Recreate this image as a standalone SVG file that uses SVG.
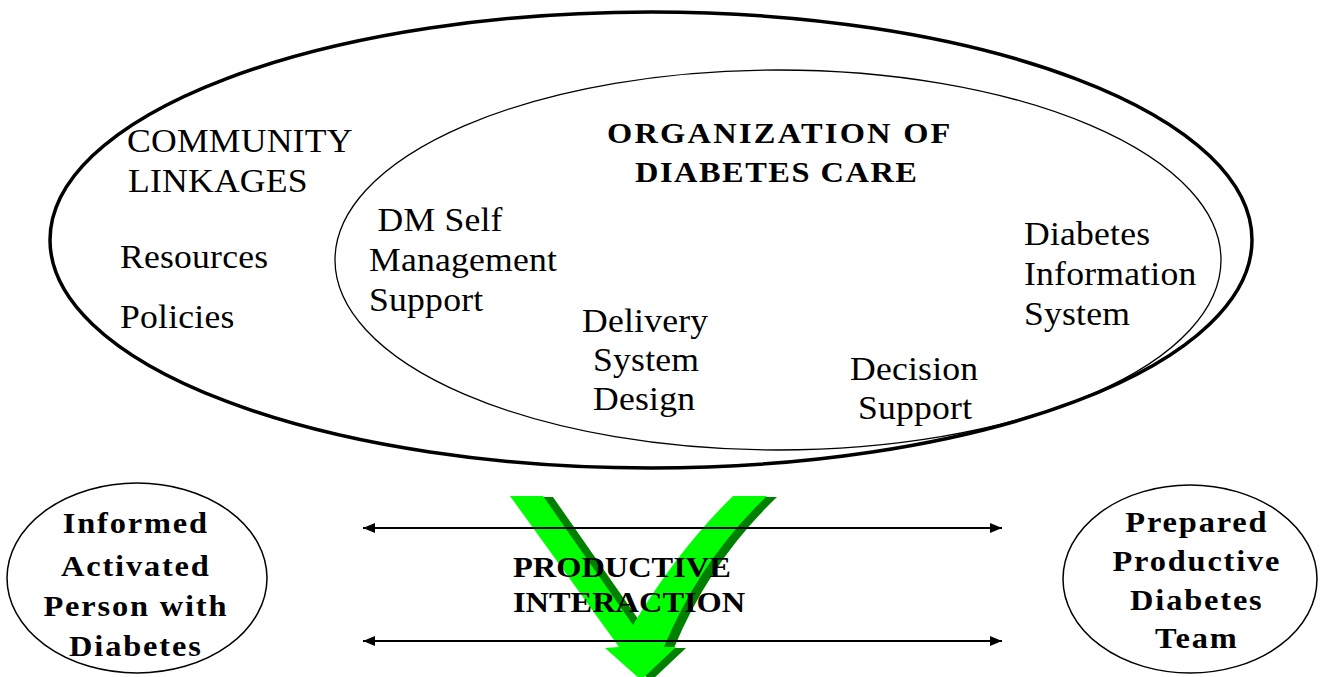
<svg xmlns="http://www.w3.org/2000/svg" width="1320" height="677" viewBox="0 0 1320 677">
<style>
  .reg { font-family: "Liberation Serif", "Times New Roman", serif; font-size: 33px; fill: #000; letter-spacing: 0.2px; }
  .bold { font-family: "Liberation Serif", "Times New Roman", serif; font-weight: bold; fill: #000; }
  .title { font-size: 30px; }
  .node { font-size: 30px; letter-spacing: 1.7px; text-anchor: middle; }
  .pi { font-size: 30px; letter-spacing: 0px; }
  .ell { fill: none; stroke: #000; }
  .conn { stroke: #000; stroke-width: 2; fill: none; }
</style>
<defs>
  <marker id="ah" viewBox="0 0 12 10" refX="12" refY="5" markerWidth="12" markerHeight="10" markerUnits="userSpaceOnUse" orient="auto-start-reverse">
    <path d="M0,0 L12,5 L0,10 Z" fill="#000"/>
  </marker>
  <path id="check" d="M510,496 L543,496 L633,625 Q677,551 733,496 L767,496 Q700,560 664,647 L676,647 L641,680 L605,648 L619,647 Z"/>
</defs>
<rect width="1320" height="677" fill="#fff"/>

<g id="community">
  <ellipse class="ell" cx="651" cy="240" rx="601" ry="228" stroke-width="3.5"/>
  <g transform="scale(1.08,1)">
    <text class="reg" x="117.6" y="152">COMMUNITY</text>
    <text class="reg" x="118.5" y="192">LINKAGES</text>
    <text class="reg" x="111.1" y="268">Resources</text>
    <text class="reg" x="111.1" y="328">Policies</text>
  </g>
</g>

<g id="organization">
  <ellipse class="ell" cx="778" cy="260" rx="443" ry="190" stroke-width="1.3"/>
  <g transform="scale(1.08,1)">
    <text class="bold title" x="562" y="143" letter-spacing="2.1">ORGANIZATION OF</text>
    <text class="bold title" x="588" y="182" letter-spacing="1.4">DIABETES CARE</text>
  </g>
</g>

<g id="selfmgmt" transform="scale(1.08,1)">
  <text class="reg" x="349.5" y="231">DM Self</text>
  <text class="reg" x="341.7" y="271">Management</text>
  <text class="reg" x="341.7" y="311">Support</text>
</g>

<g id="delivery" transform="scale(1.08,1)">
  <text class="reg" x="538.9" y="332">Delivery</text>
  <text class="reg" x="549.1" y="371">System</text>
  <text class="reg" x="549.1" y="410">Design</text>
</g>

<g id="decision" transform="scale(1.08,1)">
  <text class="reg" x="787" y="380">Decision</text>
  <text class="reg" x="794.4" y="419">Support</text>
</g>

<g id="infosys" transform="scale(1.08,1)">
  <text class="reg" x="948.1" y="245">Diabetes</text>
  <text class="reg" x="948.1" y="285">Information</text>
  <text class="reg" x="948.1" y="325">System</text>
</g>

<g id="checkmark">
  <use href="#check" fill="#008000" transform="translate(10,1)"/>
  <use href="#check" fill="#00ff00"/>
</g>

<g id="connectors">
  <line class="conn" x1="363" y1="528" x2="1002" y2="528" marker-start="url(#ah)" marker-end="url(#ah)"/>
  <line class="conn" x1="363" y1="641" x2="1002" y2="641" marker-start="url(#ah)" marker-end="url(#ah)"/>
</g>

<g id="interaction" transform="scale(1.08,1)">
  <text class="bold pi" x="475" y="577">PRODUCTIVE</text>
  <text class="bold pi" x="475" y="612">INTERACTION</text>
</g>

<g id="patient">
  <ellipse class="ell" cx="137" cy="578" rx="130" ry="95" stroke-width="1.5"/>
  <g transform="scale(1.08,1)">
    <text class="bold node" x="125.8" y="533">Informed</text>
    <text class="bold node" x="125.8" y="576">Activated</text>
    <text class="bold node" x="125.8" y="616">Person with</text>
    <text class="bold node" x="125.8" y="656">Diabetes</text>
  </g>
</g>

<g id="team">
  <ellipse class="ell" cx="1190" cy="579" rx="127" ry="94" stroke-width="1.5"/>
  <g transform="scale(1.08,1)">
    <text class="bold node" x="1108.2" y="532">Prepared</text>
    <text class="bold node" x="1108.2" y="571">Productive</text>
    <text class="bold node" x="1108.2" y="610">Diabetes</text>
    <text class="bold node" x="1108.2" y="648">Team</text>
  </g>
</g>
</svg>
